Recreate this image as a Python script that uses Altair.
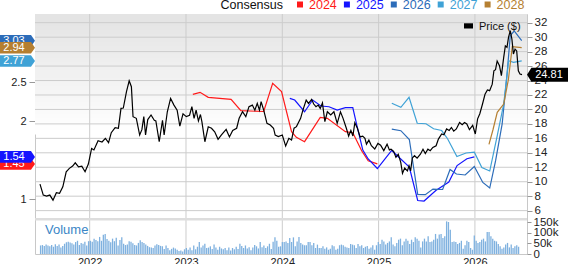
import altair as alt
import pandas as pd
import numpy as np

FONT = "Liberation Sans"
W, H = 492, 240

# ---------------- data ----------------
years = [2022, 2023, 2024, 2025, 2026]
price_ticks = [6, 8, 10, 12, 14, 16, 18, 20, 22, 24, 26, 28, 30, 32]
cons_ticks = [1, 2, 2.5]
vol_ticks = [0, 50000, 100000, 150000]

price_t = [
    2021.484, 2021.518, 2021.552, 2021.586, 2021.619, 2021.654, 2021.687, 2021.721, 2021.756, 2021.789,
    2021.823, 2021.850, 2021.884, 2021.918, 2021.952, 2021.986, 2022.020, 2022.044, 2022.087, 2022.128,
    2022.163, 2022.196, 2022.224, 2022.264, 2022.298, 2022.325, 2022.349, 2022.382, 2022.410, 2022.433,
    2022.450, 2022.484, 2022.519, 2022.542, 2022.562, 2022.580, 2022.603, 2022.637, 2022.671, 2022.687,
    2022.722, 2022.756, 2022.773, 2022.806, 2022.840, 2022.875, 2022.908, 2022.936, 2022.969, 2023.003,
    2023.037, 2023.061, 2023.084, 2023.105, 2023.129, 2023.150, 2023.165, 2023.196, 2023.231, 2023.265,
    2023.298, 2023.333, 2023.366, 2023.417, 2023.451, 2023.485, 2023.526, 2023.552, 2023.587, 2023.621,
    2023.654, 2023.689, 2023.715, 2023.740, 2023.763, 2023.780, 2023.807, 2023.841, 2023.875, 2023.909,
    2023.926, 2023.959, 2024.000, 2024.035, 2024.068, 2024.096, 2024.122, 2024.147, 2024.190, 2024.214,
    2024.248, 2024.272, 2024.305, 2024.326, 2024.350, 2024.373, 2024.394, 2024.417, 2024.442, 2024.468,
    2024.503, 2024.536, 2024.570, 2024.604, 2024.631, 2024.665, 2024.689, 2024.712, 2024.733, 2024.753,
    2024.780, 2024.808, 2024.835, 2024.858, 2024.874, 2024.899, 2024.925, 2024.960, 2024.993, 2025.021,
    2025.054, 2025.088, 2025.112, 2025.129, 2025.156, 2025.180, 2025.204, 2025.230, 2025.248, 2025.271,
    2025.299, 2025.316, 2025.332, 2025.350, 2025.373, 2025.400, 2025.434, 2025.461, 2025.485, 2025.512,
    2025.536, 2025.563, 2025.597, 2025.621, 2025.655, 2025.678, 2025.706, 2025.733, 2025.756, 2025.780,
    2025.807, 2025.841, 2025.868, 2025.892, 2025.916, 2025.943, 2025.977, 2026.004, 2026.028, 2026.051,
    2026.079, 2026.105, 2026.130, 2026.153, 2026.180, 2026.197, 2026.214, 2026.231, 2026.255, 2026.275,
    2026.299, 2026.316, 2026.333, 2026.349, 2026.367, 2026.384, 2026.400, 2026.417, 2026.434, 2026.451,
    2026.468, 2026.489]
price_v = [
    9.67, 8.15, 8.0, 8.15, 7.45, 8.47, 8.4, 9.3, 11.38, 11.85,
    12.16, 12.62, 12.07, 12.16, 11.38, 12.44, 14.6, 14.4, 15.67, 15.5,
    16.0, 15.4, 16.78, 17.47, 17.4, 20.15, 20.2, 22.45, 23.97, 23.14,
    19.0, 18.77, 16.46, 17.2, 19.0, 16.46, 18.6, 19.23, 18.5, 18.4,
    15.53, 18.5, 16.46, 19.68, 21.53, 20.6, 19.9, 17.7, 19.4, 19.0,
    19.2, 20.38, 18.77, 19.9, 18.4, 19.3, 18.3, 15.53, 17.6, 17.4,
    16.9, 15.86, 16.46, 17.24, 16.2, 17.1, 17.4, 18.77, 19.68, 19.0,
    20.38, 20.6, 19.9, 20.84, 19.9, 21.07, 19.9, 18.08, 17.85, 17.4,
    16.46, 16.24, 16.46, 14.93, 16.0, 15.77, 17.4, 17.62, 18.77, 19.9,
    21.3, 20.84, 21.4, 20.75, 20.38, 20.6, 20.15, 20.9, 18.3, 19.68,
    19.23, 19.68, 18.08, 19.68, 18.77, 17.4, 16.32, 17.1, 16.32, 18.16,
    17.4, 16.2, 16.3, 16.0, 15.2, 15.75, 14.98, 14.52, 15.3, 15.05,
    14.3, 15.2, 14.4, 14.5, 14.2, 13.37, 13.8, 12.68, 11.16, 11.9,
    11.5, 12.2, 11.5, 13.27, 13.6, 13.27, 13.8, 14.5, 13.9, 14.5,
    14.3, 14.75, 14.98, 15.9, 16.6, 16.5, 17.3, 17.1, 17.5, 17.0,
    17.3, 18.2, 17.9, 18.2, 18.0, 17.2, 17.8, 16.6, 18.7, 19.4,
    20.75, 22.1, 22.7, 22.6, 23.5, 25.35, 25.5, 26.7, 26.05, 24.67,
    27.2, 28.8, 28.6, 29.98, 30.9, 29.75, 27.67, 28.35, 28.1, 25.35,
    24.9, 24.81]

c2024_t = [2023.071, 2023.146, 2023.231, 2023.468, 2023.570, 2023.807, 2023.900, 2023.992, 2024.096,
           2024.146, 2024.231, 2024.394, 2024.468, 2024.655, 2024.732, 2024.824, 2024.892, 2024.987]
c2024_v = [2.342, 2.368, 2.304, 2.278, 2.132, 2.122, 2.483, 2.376, 1.863,
           1.791, 1.735, 2.047, 2.035, 1.863, 1.850, 1.619, 1.491, 1.45]

c2025_t = [2024.078, 2024.129, 2024.231, 2024.315, 2024.401, 2024.485, 2024.570, 2024.655, 2024.732,
           2024.773, 2024.836, 2024.892, 2024.987, 2025.136, 2025.319, 2025.406, 2025.472, 2025.594,
           2025.729, 2025.815, 2025.917, 2025.994]
c2025_v = [2.291, 2.269, 2.119, 2.269, 2.192, 2.183, 2.141, 2.171, 2.171,
           1.949, 1.628, 1.513, 1.391, 1.622, 1.410, 0.981, 0.974, 1.109,
           1.218, 1.429, 1.517, 1.54]

c2026_t = [2025.137, 2025.231, 2025.319, 2025.406, 2025.485, 2025.564, 2025.665, 2025.742, 2025.808,
           2025.899, 2025.994, 2026.082, 2026.154, 2026.215, 2026.283, 2026.334, 2026.367, 2026.408, 2026.486]
c2026_v = [1.897, 1.876, 1.763, 1.060, 1.055, 1.128, 1.122, 1.378, 1.321,
           1.308, 1.417, 1.212, 1.141, 1.491, 1.962, 2.603, 3.094, 3.154, 3.03]

c2027_t = [2025.137, 2025.231, 2025.316, 2025.401, 2025.492, 2025.571, 2025.655, 2025.716, 2025.813,
           2025.908, 2025.994, 2026.072, 2026.154, 2026.232, 2026.299, 2026.350, 2026.401, 2026.486]
c2027_v = [2.227, 2.176, 2.304, 1.971, 1.965, 1.901, 1.878, 1.773, 1.545,
           1.590, 1.600, 1.404, 1.359, 1.812, 2.218, 2.773, 2.753, 2.77]

c2028_t = [2026.146, 2026.187, 2026.232, 2026.299, 2026.347, 2026.388, 2026.486]
c2028_v = [1.701, 1.885, 2.112, 2.218, 2.526, 2.953, 2.94]

# weekly volume, in thousands of shares
vol_k = [
    40, 42, 38, 45, 40, 36, 42, 34, 46, 38, 44, 30, 38,
    48, 55, 58, 54, 50, 44, 56, 62, 42, 52, 48, 58, 40,
    60, 62, 58, 72, 66, 60, 80, 62, 90, 94, 70, 62, 55,
    72, 60, 76, 40, 66, 78, 48, 42, 44, 60, 58, 50, 42,
    40, 52, 64, 56, 52, 44, 38, 32, 30, 28, 40, 46, 42,
    38, 36, 24, 40, 28, 18, 24, 30, 26, 20, 14, 16, 12,
    22, 28, 20, 30, 18, 40, 22, 34, 56, 30, 40, 48, 28,
    30, 36, 24, 44, 30, 20, 34, 26, 22, 28, 18, 30, 16,
    28, 22, 34, 24, 48, 38, 28, 40, 26, 32, 18, 30, 42,
    36, 26, 56, 32, 40, 28, 36, 48, 24, 58, 78, 62, 34,
    36, 56, 56, 59, 52, 75, 56, 78, 36, 59, 80, 52, 44,
    41, 41, 56, 56, 41, 52, 28, 44, 28, 28, 36, 25, 31,
    20, 25, 41, 36, 20, 25, 41, 44, 41, 34, 31, 28, 47,
    44, 41, 28, 47, 36, 41, 28, 34, 38, 25, 31, 41, 20,
    41, 56, 47, 67, 59, 44, 52, 59, 78, 44, 36, 52, 67,
    72, 41, 59, 72, 62, 47, 67, 56, 78, 72, 62, 31, 59,
    72, 59, 83, 56, 59, 67, 94, 72, 91, 94, 75, 83, 153,
    150, 114, 56, 59, 56, 47, 52, 62, 25, 41, 62, 56, 28,
    20, 87, 62, 52, 56, 67, 72, 59, 103, 103, 83, 72, 62,
    59, 47, 36, 25, 31, 44, 52, 31, 44, 28, 36, 41, 34]
vol_start = 2021.49

series_names = ["2024", "2025", "2026", "2027", "2028"]
series_colors = ["#ff1a1a", "#1414ff", "#2c6cb9", "#3fa2d6", "#b57f31"]
tag_series = ["2024", "2025", "2026", "2028", "2027"]
tag_values = [1.45, 1.54, 3.03, 2.94, 2.77]
last_price = 24.81

# ---------------- tables ----------------
price_df = pd.DataFrame({"t": price_t, "v": price_v})
cons_parts = []
for name, tt, vv, col in zip(series_names,
                             [c2024_t, c2025_t, c2026_t, c2027_t, c2028_t],
                             [c2024_v, c2025_v, c2026_v, c2027_v, c2028_v],
                             series_colors):
    cons_parts.append(pd.DataFrame({"t": tt, "v": vv, "s": name, "col": col}))
cons_df = pd.concat(cons_parts, ignore_index=True)
vol_df = pd.DataFrame({"t": vol_start + np.arange(len(vol_k)) / 52.18,
                       "v": np.array(vol_k) * 1000})
color_of = dict(zip(series_names, series_colors))

# background shading bands (top of the price panel is light grey, fading to white)
n_bands = 30
band_h = 120 / n_bands
band_df = pd.DataFrame({
    "y0": [i * band_h for i in range(n_bands)],
    "y1": [(i + 1) * band_h + 0.5 for i in range(n_bands)],
    "c": ["#%02x%02x%02x" % ((int(228 + (255 - 228) * i / (n_bands - 1)),) * 3) for i in range(n_bands)],
})

# ---------------- scales & axes ----------------
xs = alt.Scale(domain=[2021.484, 2026.489], nice=False, zero=False)
ps = alt.Scale(domain=[0.0, 33.204], nice=False, zero=False)
cs = alt.Scale(domain=[0.295, 3.372], nice=False, zero=False)
vs = alt.Scale(domain=[0, 1125000], nice=False, zero=False)

GRID = "#cccccc"
TICK = "#999999"

X_AXIS = alt.Axis(values=years, format="d", orient="bottom", grid=False,
                  domain=False, ticks=False, labelPadding=2, labelFontSize=11, labelColor="#222",
                  labelOverlap=False, labelFlush=False, title=None)
PRICE_AXIS = alt.Axis(orient="right", values=price_ticks, format="d", grid=False,
                      domain=False, tickSize=5, tickColor=TICK, labelPadding=2, labelFontSize=11.5,
                      labelColor="#222", labelOverlap=False, labelFlush=False, title=None)
CONS_AXIS = alt.Axis(orient="left", values=cons_ticks, format=".1~f", grid=False, domain=False,
                     tickSize=6, tickColor=TICK, labelPadding=3, labelFontSize=11,
                     labelColor="#222", labelOverlap=False, labelFlush=False, title=None)
VOL_AXIS = alt.Axis(orient="right", values=vol_ticks, format=".3~s", grid=False, domain=False,
                    tickSize=4, tickColor=TICK, labelPadding=2, labelFontSize=11.5,
                    labelColor="#222", labelOverlap=False, labelFlush=False, title=None)

dummy = pd.DataFrame({"a": [0]})
layers = []

# background shading
layers.append(alt.Chart(band_df).mark_rect(strokeWidth=0).encode(
    x=alt.value(0), x2=alt.value(W),
    y=alt.Y("y0:Q", scale=None), y2=alt.Y2("y1:Q"),
    color=alt.Color("c:N", scale=None, legend=None)))

# grid lines
layers.append(alt.Chart(pd.DataFrame({"yr": years})).mark_rule(stroke=GRID, strokeWidth=1).encode(
    x=alt.X("yr:Q", scale=xs, axis=X_AXIS), y=alt.value(0), y2=alt.value(H)))
layers.append(alt.Chart(pd.DataFrame({"p": price_ticks})).mark_rule(stroke=GRID, strokeWidth=1).encode(
    y=alt.Y("p:Q", scale=ps, axis=PRICE_AXIS), x=alt.value(0), x2=alt.value(W)))

# separator between price and volume panels
layers.append(alt.Chart(dummy).mark_rect(fill="#dddddd").encode(
    y=alt.value(204), y2=alt.value(206.5), x=alt.value(0), x2=alt.value(W)))

# volume
layers.append(alt.Chart(vol_df).mark_bar(size=1.3, color="#7fb1df").encode(
    x=alt.X("t:Q", scale=xs, axis=X_AXIS), y=alt.Y("v:Q", scale=vs, axis=VOL_AXIS)))

# consensus lines
layers.append(alt.Chart(cons_df).mark_line(strokeWidth=1.2).encode(
    x=alt.X("t:Q", scale=xs, axis=X_AXIS),
    y=alt.Y("v:Q", scale=cs, axis=CONS_AXIS),
    color=alt.Color("col:N", scale=None, legend=None),
    detail="s:N"))

# price line
layers.append(alt.Chart(price_df).mark_line(color="#000000", strokeWidth=1.2).encode(
    x=alt.X("t:Q", scale=xs, axis=X_AXIS),
    y=alt.Y("v:Q", scale=ps, axis=None)))

# left value tags
LEFT_TAG = "M-1,-0.33L0.77,-0.33L1,0L0.77,0.33L-1,0.33Z"
for s, v in zip(tag_series, tag_values):
    tdf = pd.DataFrame({"v": [v], "lab": [f"{v:.2f}"]})
    layers.append(alt.Chart(tdf).mark_point(shape=LEFT_TAG, size=1225, filled=True, opacity=1,
                                            color=color_of[s], strokeWidth=0).encode(
        x=alt.value(-17.5), y=alt.Y("v:Q", scale=cs, axis=None)))
    layers.append(alt.Chart(tdf).mark_text(color="white", fontSize=11, align="center",
                                           baseline="middle", font=FONT).encode(
        x=alt.value(-21), y=alt.Y("v:Q", scale=cs, axis=None), text="lab:N"))

# right price tag
RIGHT_TAG = "M-1,0L-0.8,-0.32L1,-0.32L1,0.32L-0.8,0.32Z"
pdf = pd.DataFrame({"v": [last_price], "lab": [f"{last_price:.2f}"]})
layers.append(alt.Chart(pdf).mark_point(shape=RIGHT_TAG, size=1936, filled=True, opacity=1,
                                        color="#000000", strokeWidth=0).encode(
    x=alt.value(W + 22), y=alt.Y("v:Q", scale=ps, axis=None)))
layers.append(alt.Chart(pdf).mark_text(color="white", fontSize=11, align="center",
                                       baseline="middle", font=FONT).encode(
    x=alt.value(W + 22), y=alt.Y("v:Q", scale=ps, axis=None), text="lab:N"))

# top legend
layers.append(alt.Chart(dummy).mark_text(text="Consensus", fontSize=12.5, align="right",
                                         baseline="alphabetic", color="#111", font=FONT).encode(
    x=alt.value(248), y=alt.value(-5.5)))
for i, (name, col) in enumerate(zip(series_names, series_colors)):
    sq = 265 + i * 46.9
    layers.append(alt.Chart(dummy).mark_rect(color=col).encode(
        x=alt.value(sq - 3), x2=alt.value(sq + 3), y=alt.value(-12.5), y2=alt.value(-6.5)))
    layers.append(alt.Chart(dummy).mark_text(text=name, fontSize=12.5, align="left",
                                             baseline="alphabetic", color=col, font=FONT).encode(
        x=alt.value(sq + 9), y=alt.value(-5.5)))

# price legend inside plot
layers.append(alt.Chart(dummy).mark_rect(color="#000000").encode(
    x=alt.value(429), x2=alt.value(438), y=alt.value(9.3), y2=alt.value(14.5)))
layers.append(alt.Chart(dummy).mark_text(text="Price ($)", fontSize=11, align="left",
                                         baseline="alphabetic", color="#111", font=FONT).encode(
    x=alt.value(444), y=alt.value(15.5)))

# volume label
layers.append(alt.Chart(dummy).mark_text(text="Volume", fontSize=13, align="left",
                                         baseline="alphabetic", color="#3b86c6", font=FONT).encode(
    x=alt.value(10), y=alt.value(219.5)))

chart = alt.layer(*layers).resolve_scale(y="independent").properties(
    width=W, height=H,
    autosize=alt.AutoSizeParams(type="none"),
    padding={"left": 35, "top": 14, "right": 41, "bottom": 10},
).configure_view(stroke="#c8c8c8", strokeWidth=1).configure_axis(
    labelFont=FONT
).configure_text(font=FONT)

chart.save("out.html", embed_options={"renderer": "svg", "actions": False})
